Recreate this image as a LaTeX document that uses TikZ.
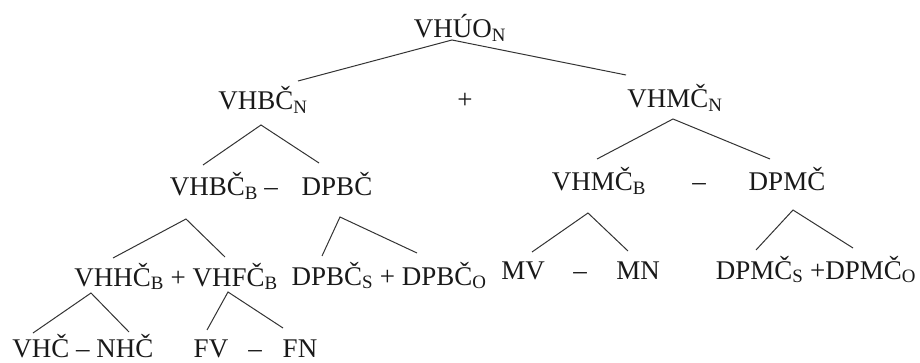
\documentclass[tikz,border=0pt]{standalone}
\usepackage{fontspec}
\setmainfont{Liberation Serif}
\begin{document}
\begin{tikzpicture}[x=1pt,y=-1pt,
  lbl/.style={anchor=base,inner sep=0pt,text=black!90,font=\fontsize{27}{32}\selectfont},
  branch/.style={draw=black!80,line width=1pt}]
\useasboundingbox (0,0) rectangle (920,363);
% row 1
\node[lbl] (top) at (460,38) {VHÚO\textsubscript{N}};
% row 2
\node[lbl] (vhbcn) at (263,110) {VHBČ\textsubscript{N}};
\node[lbl] (plus1) at (465,109) {+};
\node[lbl] (vhmcn) at (675,108) {VHMČ\textsubscript{N}};
% row 3
\node[lbl] (vhbcb) at (214,196) {VHBČ\textsubscript{B}};
\node[lbl] (dash1) at (271,196) {–};
\node[lbl] (dpbc) at (337,196) {DPBČ};
\node[lbl] (vhmcb) at (599,191) {VHMČ\textsubscript{B}};
\node[lbl] (dash2) at (699,191) {–};
\node[lbl] (dpmc) at (787,191) {DPMČ};
% row 4
\node[lbl] (vhhcb) at (176,286) {VHHČ\textsubscript{B} + VHFČ\textsubscript{B}};
\node[lbl] (dpbcs) at (389,285) {DPBČ\textsubscript{S} + DPBČ\textsubscript{O}};
\node[lbl] (mv) at (523,279) {MV};
\node[lbl] (dash3) at (580,279) {–};
\node[lbl] (mn) at (638,279) {MN};
\node[lbl] (dpmcs) at (816,279) {DPMČ\textsubscript{S} +DPMČ\textsubscript{O}};
% row 5
\node[lbl] (vhc) at (83,357) {VHČ – NHČ};
\node[lbl] (fv) at (211,357) {FV};
\node[lbl] (dash4) at (255,357) {–};
\node[lbl] (fn) at (300,357) {FN};
% branch points
\coordinate (a0) at (452,40);   \coordinate (a0l) at (298,81);  \coordinate (a0r) at (626,75);
\coordinate (a1) at (261,125);  \coordinate (a1l) at (203,165); \coordinate (a1r) at (319,163);
\coordinate (a2) at (673,119);  \coordinate (a2l) at (597,159); \coordinate (a2r) at (770,159);
\coordinate (a3) at (186,219);  \coordinate (a3l) at (113,258); \coordinate (a3r) at (225,257);
\coordinate (a4) at (340,217);  \coordinate (a4l) at (322,256); \coordinate (a4r) at (417,253);
\coordinate (a5) at (588,213);  \coordinate (a5l) at (532,252); \coordinate (a5r) at (628,251);
\coordinate (a6) at (793,210);  \coordinate (a6l) at (756,250); \coordinate (a6r) at (853,248);
\coordinate (a7) at (91,293);   \coordinate (a7l) at (33,333);  \coordinate (a7r) at (129,332);
\coordinate (a8) at (228,292);  \coordinate (a8l) at (207,330); \coordinate (a8r) at (283,328);
\foreach \i in {0,...,8}{\draw[branch] (a\i l) -- (a\i) -- (a\i r);}
\end{tikzpicture}
\end{document}
